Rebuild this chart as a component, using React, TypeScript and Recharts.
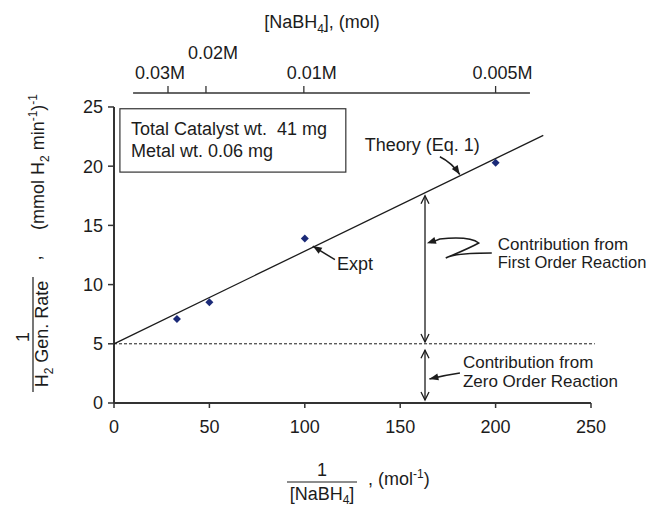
import React from "react";
import {
  ComposedChart,
  Line,
  Scatter,
  XAxis,
  YAxis,
  ReferenceLine,
  ReferenceArea,
} from "recharts";

const FONT = "Arial, 'Liberation Sans', Helvetica, sans-serif";
const INK = "#1c1c1c";
const POINT = "#1b2a78";

// bottom axis: 1/[NaBH4] (mol^-1), left axis: 1 / H2 generation rate
const xTicks = [0, 50, 100, 150, 200, 250];
const yTicks = [0, 5, 10, 15, 20, 25];
const yTop = 26.18;

// experimental points
const invConc = [33, 50, 100, 200];
const invRate = [7.1, 8.5, 13.9, 20.3];

// theory line (Eq. 1)
const theoryX = [0, 225];
const theoryY = [5, 22.6];

// zero order contribution
const zeroOrderLevel = 5;

// top axis: [NaBH4]
const topTickPos = [28.3, 48.2, 99.5, 200];
const topTickLabels = ["0.03M", "0.02M", "0.01M", "0.005M"];
const topAxisSpan = [10, 218];
const topTickLen = 0.59;

const expt = invConc.map((x, i) => ({ x, y: invRate[i] }));
const theory = theoryX.map((x, i) => ({ x, y: theoryY[i] }));

// annotation anchors in data units
const theoryArrow = [{ x: 170.8, y: 20.8 }, { x: 181.2, y: 19.3 }];
const exptArrow = [{ x: 115.8, y: 12.1 }, { x: 104.2, y: 13.25 }];
const firstPointer = [{ x: 198, y: 12.67 }, { x: 164, y: 13.5 }];
const zeroPointer = [{ x: 181.3, y: 2.53 }, { x: 165.3, y: 2.03 }];
const firstSpan = [{ x: 163, y: 17.5 }, { x: 163, y: 5.15 }];
const zeroSpan = [{ x: 163, y: 4.45 }, { x: 163, y: 0.25 }];
const infoBox = { x1: 3.1, x2: 121.5, y1: 19.5, y2: 24.85 };

function head(x1: number, y1: number, x2: number, y2: number, len: number, half: number) {
  const a = Math.atan2(y2 - y1, x2 - x1);
  const bx = x2 - len * Math.cos(a);
  const by = y2 - len * Math.sin(a);
  const px = -Math.sin(a) * half;
  const py = Math.cos(a) * half;
  return [
    [bx + px, by + py],
    [x2, y2],
    [bx - px, by - py],
  ];
}

const pts = (p: number[][]) => p.map((q) => q.join(",")).join(" ");

function Diamond(props: any) {
  const { cx, cy } = props;
  const r = 4;
  return (
    <polygon
      points={`${cx},${cy - r} ${cx + r},${cy} ${cx},${cy + r} ${cx - r},${cy}`}
      fill={POINT}
    />
  );
}

function textStyle(size = 18) {
  return { fontFamily: FONT, fontSize: size, fill: INK } as const;
}

function TheoryArrow(p: any) {
  const { x1, y1, x2, y2 } = p;
  return (
    <g>
      <path d={`M${x1},${y1} Q${x1 + 12},${y1 + 6} ${x2},${y2}`} stroke={INK} strokeWidth={1.5} fill="none" />
      <polygon points={pts(head(x1 + 12, y1 + 6, x2, y2, 9, 3.5))} fill={INK} />
      <text x={x1 + 40} y={y1 - 6} textAnchor="end" {...textStyle()}>
        Theory (Eq. 1)
      </text>
    </g>
  );
}

function ExptArrow(p: any) {
  const { x1, y1, x2, y2 } = p;
  return (
    <g>
      <line x1={x1} y1={y1} x2={x2} y2={y2} stroke={INK} strokeWidth={1.5} />
      <polygon points={pts(head(x1, y1, x2, y2, 9, 3.5))} fill={INK} />
      <text x={x1 + 2} y={y1 + 10} {...textStyle()}>
        Expt
      </text>
    </g>
  );
}

function FirstPointer(p: any) {
  const { x1, y1, x2, y2 } = p;
  const d =
    `M${x1},${y1} Q${x1 - 37},${y1} ${x1 - 46},${y1 + 5} ` +
    `Q${x1 - 22},${y1 - 5} ${x1 - 13},${y1 - 10} ` +
    `Q${x1 - 22},${y1 - 17} ${x1 - 52},${y1 - 14} L${x2 + 4},${y2 - 0.5}`;
  return (
    <g>
      <path d={d} stroke={INK} strokeWidth={1.5} fill="none" />
      <polygon points={pts(head(x1 - 52, y1 - 14, x2, y2, 9, 3.5))} fill={INK} />
      <text x={x1 + 6} y={y1 - 3} {...textStyle(17)}>
        Contribution from
      </text>
      <text x={x1 + 6} y={y1 + 15} {...textStyle(16.5)}>
        First Order Reaction
      </text>
    </g>
  );
}

function ZeroPointer(p: any) {
  const { x1, y1, x2, y2 } = p;
  return (
    <g>
      <path d={`M${x1},${y1} Q${x1 - 14},${y1 + 2} ${x2},${y2}`} stroke={INK} strokeWidth={1.5} fill="none" />
      <polygon points={pts(head(x1 - 14, y1 + 2, x2, y2, 9, 3.5))} fill={INK} />
      <text x={x1 + 3} y={y1 - 5} {...textStyle(17)}>
        Contribution from
      </text>
      <text x={x1 + 3} y={y1 + 14} {...textStyle(17)}>
        Zero Order Reaction
      </text>
    </g>
  );
}

function DoubleArrow(p: any) {
  const { x1, y1, x2, y2 } = p;
  return (
    <g fill="none" stroke={INK} strokeWidth={1.3}>
      <line x1={x1} y1={y1} x2={x2} y2={y2} />
      <polyline points={pts(head(x2, y2, x1, y1, 8, 4))} />
      <polyline points={pts(head(x1, y1, x2, y2, 8, 4))} />
    </g>
  );
}

function InfoBox(p: any) {
  const { x, y, width, height } = p;
  return (
    <g>
      <rect x={x} y={y} width={width} height={height} fill="#fff" stroke="#333" strokeWidth={1.2} />
      <text x={x + 11} y={y + 26} {...textStyle()} xmlSpace="preserve">
        Total Catalyst wt.  41 mg
      </text>
      <text x={x + 11} y={y + 48} {...textStyle()}>
        Metal wt. 0.06 mg
      </text>
    </g>
  );
}

const topLabelShift: Record<string, [number, number]> = {
  "0.03M": [-8, 0],
  "0.02M": [7, -20],
  "0.01M": [8, 0],
  "0.005M": [7, 0],
};

function TopTick(p: any) {
  const { x1, y1, x2, y2, label } = p;
  const [dx, dy] = topLabelShift[label] ?? [0, 0];
  return (
    <g>
      <line x1={x1} y1={y1} x2={x2} y2={y2} stroke="#333" strokeWidth={1.3} />
      <text x={x2 + dx} y={y2 - 7 + dy} textAnchor="middle" {...textStyle()}>
        {label}
      </text>
    </g>
  );
}

function AxisTitles() {
  return (
    <svg
      width={651}
      height={508}
      style={{ position: "absolute", left: 0, top: 0, pointerEvents: "none" }}
    >
      {/* top title */}
      <text x={322} y={28} textAnchor="middle" {...textStyle()}>
        [NaBH<tspan dy={5} fontSize={12}>4</tspan>
        <tspan dy={-5}>], (mol)</tspan>
      </text>

      {/* bottom title */}
      <text x={322} y={476} textAnchor="middle" {...textStyle()}>1</text>
      <line x1={287} y1={482} x2={357} y2={482} stroke={INK} strokeWidth={1.2} />
      <text x={322} y={500} textAnchor="middle" {...textStyle()}>
        [NaBH<tspan dy={4} fontSize={12}>4</tspan>
        <tspan dy={-4}>]</tspan>
      </text>
      <text x={368} y={485} {...textStyle()}>
        , (mol<tspan dy={-7} fontSize={12}>-1</tspan>
        <tspan dy={7}>)</tspan>
      </text>

      {/* left title, rotated */}
      <g transform="rotate(-90)">
        <text x={-337} y={29} textAnchor="middle" {...textStyle()}>1</text>
        <line x1={-392} y1={33} x2={-277} y2={33} stroke={INK} strokeWidth={1.2} />
        <text x={-334} y={48} textAnchor="middle" {...textStyle()}>
          H<tspan dy={5} fontSize={12}>2</tspan>
          <tspan dy={-5}> Gen. Rate</tspan>
        </text>
        <text x={-258} y={41} textAnchor="middle" {...textStyle()}>,</text>
        <text x={-162} y={44} textAnchor="middle" {...textStyle()}>
          (mmol H<tspan dy={5} fontSize={12}>2</tspan>
          <tspan dy={-5}> min</tspan>
          <tspan dy={-7} fontSize={12}>-1</tspan>
          <tspan dy={7}>)</tspan>
          <tspan dy={-7} fontSize={12}>-1</tspan>
        </text>
      </g>
    </svg>
  );
}

export default function App() {
  return (
    <div style={{ position: "absolute", left: 0, top: 0, width: 651, height: 508, background: "#fff" }}>
      <ComposedChart
        width={651}
        height={508}
        margin={{ top: 93, right: 60, bottom: 75, left: 54 }}
      >
        <XAxis
          dataKey="x"
          type="number"
          domain={[0, 250]}
          ticks={xTicks}
          interval={0}
          tickSize={5}
          tickMargin={12}
          height={30}
          axisLine={{ stroke: "#333", strokeWidth: 2 }}
          tickLine={{ stroke: "#333", strokeWidth: 1.5 }}
          tick={{ fill: INK, fontSize: 18, fontFamily: FONT }}
        />
        <YAxis
          dataKey="y"
          type="number"
          domain={[0, yTop]}
          ticks={yTicks}
          interval={0}
          tickSize={6}
          tickMargin={5}
          width={60}
          axisLine={false}
          tickLine={{ stroke: "#333", strokeWidth: 1.5 }}
          tick={{ fill: INK, fontSize: 18, fontFamily: FONT }}
        />

        <ReferenceLine
          segment={[{ x: 0, y: 0 }, { x: 0, y: 25 }]}
          stroke="#333"
          strokeWidth={2}
          ifOverflow="visible"
        />
        <ReferenceLine
          segment={[{ x: topAxisSpan[0], y: yTop }, { x: topAxisSpan[1], y: yTop }]}
          stroke="#333"
          strokeWidth={1.5}
          ifOverflow="visible"
        />
        {topTickPos.map((x, i) => (
          <ReferenceLine
            key={topTickLabels[i]}
            segment={[{ x, y: yTop }, { x, y: yTop + topTickLen }]}
            ifOverflow="visible"
            shape={(p: any) => <TopTick {...p} label={topTickLabels[i]} />}
          />
        ))}
        <ReferenceLine
          segment={[{ x: 0, y: zeroOrderLevel }, { x: 252, y: zeroOrderLevel }]}
          stroke={INK}
          strokeWidth={1}
          strokeDasharray="3 2"
          ifOverflow="visible"
        />

        <ReferenceArea {...infoBox} ifOverflow="visible" shape={<InfoBox />} />

        <Line
          data={theory}
          dataKey="y"
          type="linear"
          stroke={INK}
          strokeWidth={1.3}
          dot={false}
          activeDot={false}
          isAnimationActive={false}
        />
        <Scatter data={expt} dataKey="y" shape={<Diamond />} isAnimationActive={false} />

        <ReferenceLine segment={theoryArrow} ifOverflow="visible" shape={(p: any) => <TheoryArrow {...p} />} />
        <ReferenceLine segment={exptArrow} ifOverflow="visible" shape={(p: any) => <ExptArrow {...p} />} />
        <ReferenceLine segment={firstPointer} ifOverflow="visible" shape={(p: any) => <FirstPointer {...p} />} />
        <ReferenceLine segment={zeroPointer} ifOverflow="visible" shape={(p: any) => <ZeroPointer {...p} />} />
        <ReferenceLine segment={firstSpan} ifOverflow="visible" shape={(p: any) => <DoubleArrow {...p} />} />
        <ReferenceLine segment={zeroSpan} ifOverflow="visible" shape={(p: any) => <DoubleArrow {...p} />} />
      </ComposedChart>
      <AxisTitles />
    </div>
  );
}
